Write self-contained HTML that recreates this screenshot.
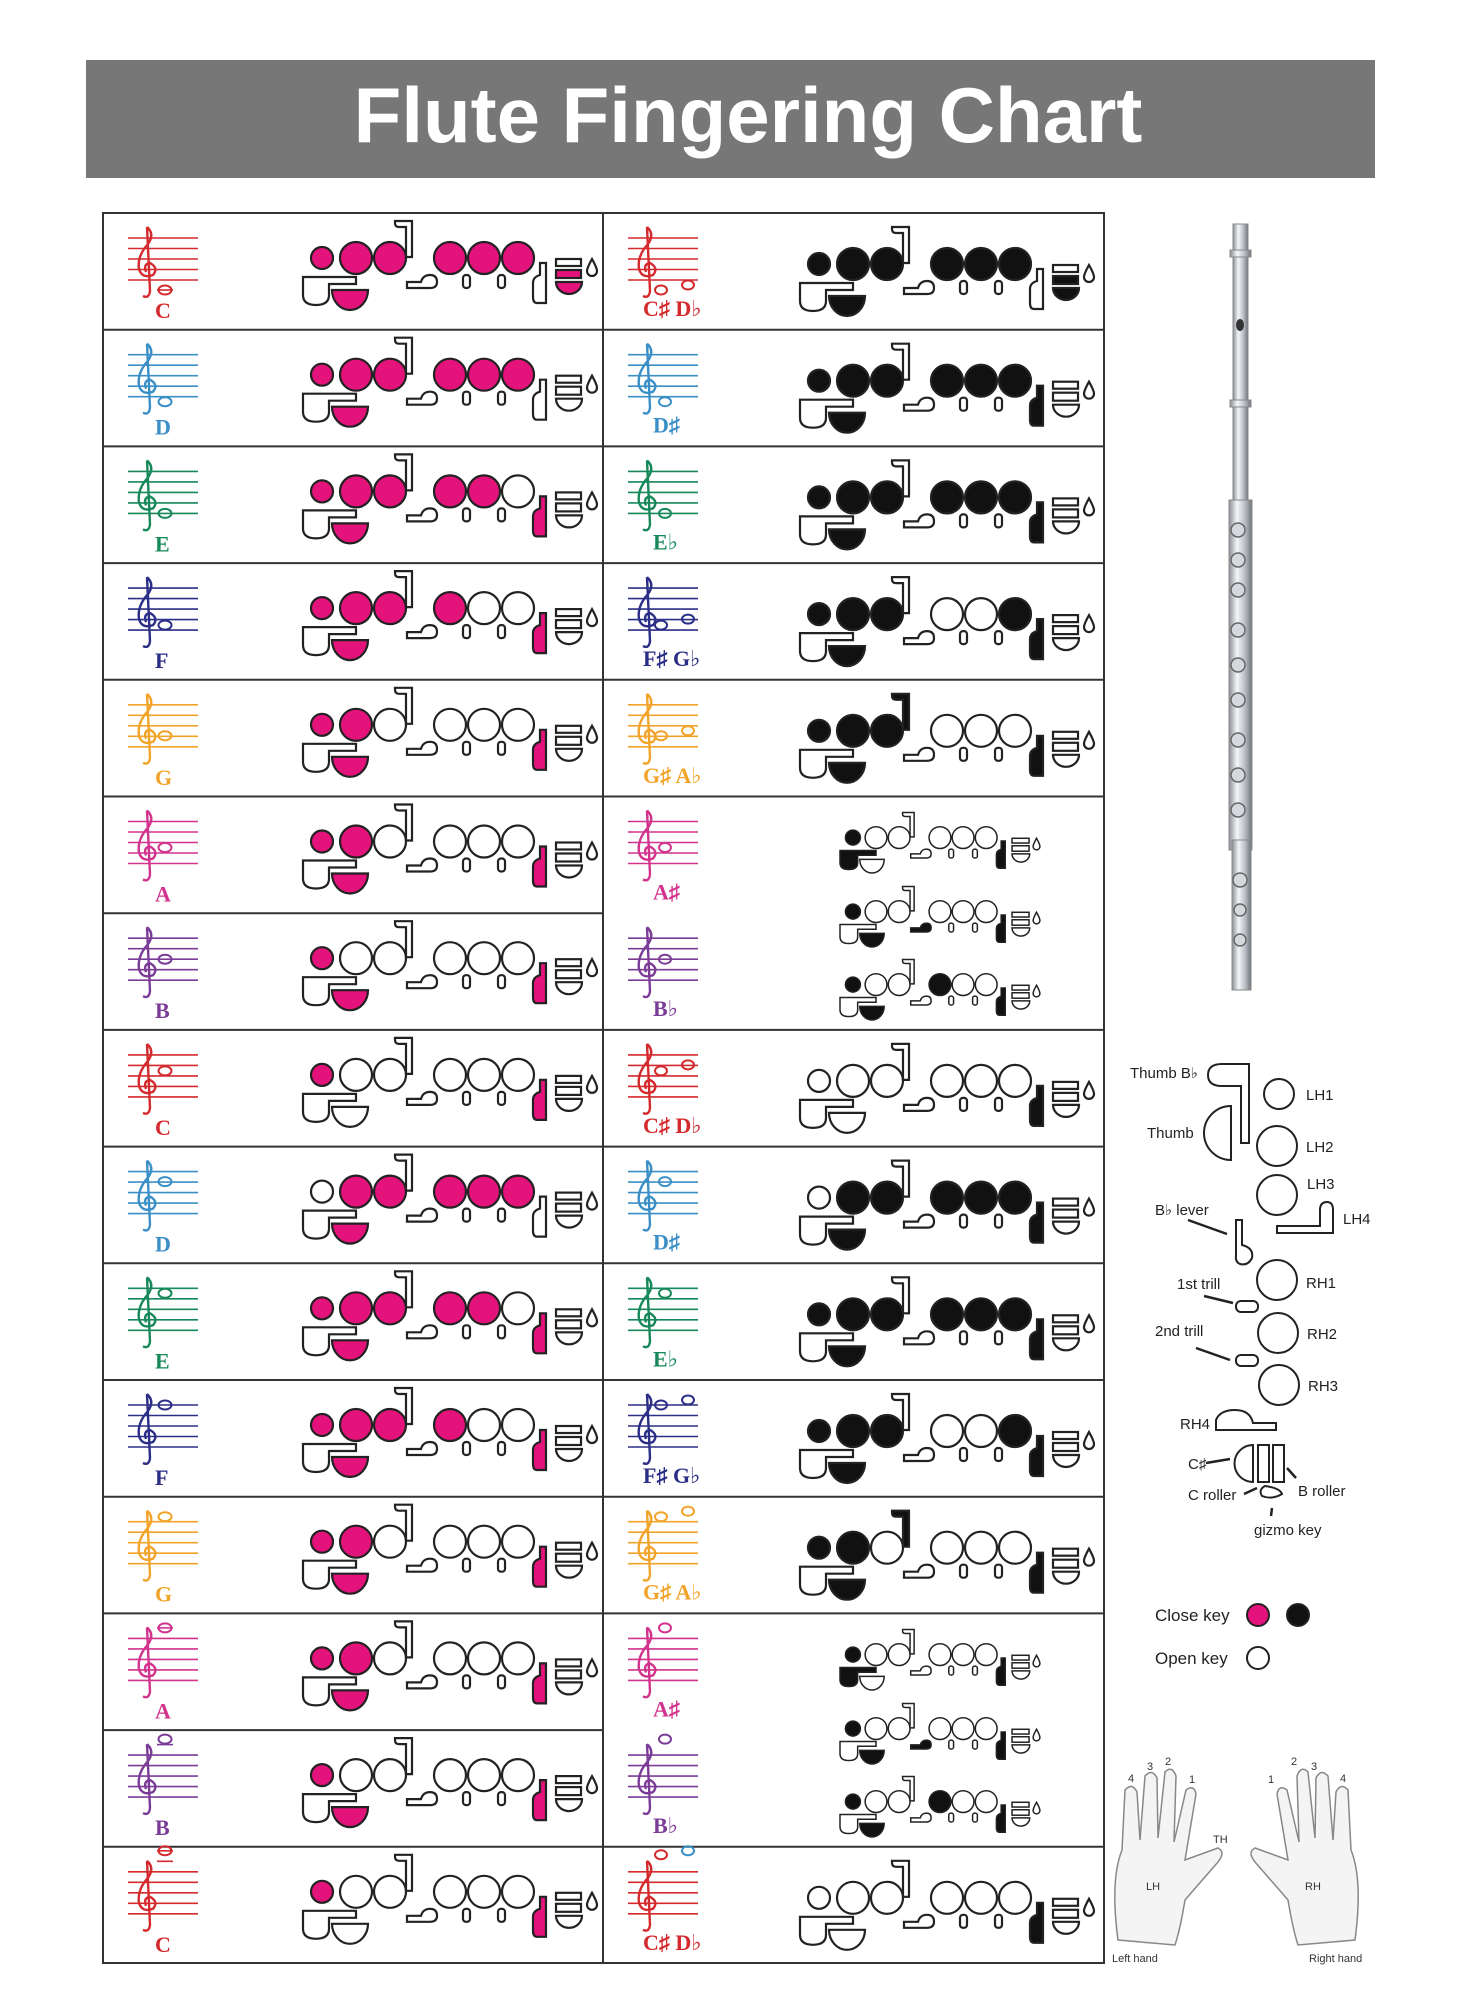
<!DOCTYPE html>
<html><head><meta charset="utf-8"><style>
html,body{margin:0;padding:0;background:#fff;}
svg{display:block;}
.pk{--on:#e4137b}.bk{--on:#111}
.fa{--a:var(--on)}.fb{--b:var(--on)}.fc{--c:var(--on)}.fh{--h:var(--on)}.fL{--L:var(--on)}.ft{--t:var(--on)}.fv{--v:var(--on)}
.fd{--d:var(--on)}.fe{--e:var(--on)}.ff{--f:var(--on)}.fr{--r:var(--on)}.fk1{--k1:var(--on)}.fk2{--k2:var(--on)}.fk3{--k3:var(--on)}
.lbl{font-family:"Liberation Serif","DejaVu Serif",serif;font-weight:bold;font-size:22px;}
.lg{font-family:"Liberation Sans",sans-serif;font-size:15px;fill:#222;}
</style></head><body>
<svg width="1458" height="2000" viewBox="0 0 1458 2000" xmlns="http://www.w3.org/2000/svg">
<defs>
<symbol id="dg" overflow="visible">
<g stroke="#222" stroke-width="2.2">
<circle cx="219" cy="45" r="11" style="fill:var(--a,#fff)"/>
<circle cx="253" cy="45" r="16" style="fill:var(--b,#fff)"/>
<circle cx="287" cy="45" r="16" style="fill:var(--c,#fff)"/>
<path d="M292 8 H309 V44 H303 V14 H296 Q292 14 292 10Z" style="fill:var(--h,#fff)"/>
<path d="M200 64 H253 V71 H226 V82 Q226 92 213 92 Q200 92 200 82 Z" style="fill:var(--L,#fff)"/>
<path d="M229 77 H265 A18 20 0 0 1 229 77 Z" style="fill:var(--t,#fff)"/>
<path d="M304 69 H318 Q320 62 327 62 Q334 62 334 69 Q334 75 327 75 H304 Z" style="fill:var(--v,#fff)"/>
<circle cx="347" cy="45" r="16" style="fill:var(--d,#fff)"/>
<circle cx="381" cy="45" r="16" style="fill:var(--e,#fff)"/>
<circle cx="415" cy="45" r="16" style="fill:var(--f,#fff)"/>
<rect x="360" y="62" width="7" height="13" rx="3" fill="#fff"/>
<rect x="395" y="62" width="7" height="13" rx="3" fill="#fff"/>
<path d="M437 50 H443 V90 H434 Q430 90 430 84 V70 Q430 64 437 62 Z" style="fill:var(--r,#fff)"/>
<rect x="453" y="46" width="25" height="7" style="fill:var(--k1,#fff)"/>
<rect x="453" y="57" width="25" height="8" style="fill:var(--k2,#fff)"/>
<path d="M453 69 H479 A13 12 0 0 1 453 69 Z" style="fill:var(--k3,#fff)"/>
<path d="M489 46 Q494 55 494 58 A5 5 0 0 1 484 58 Q484 55 489 46 Z" fill="#fff"/>
</g>
</symbol>
<symbol id="st" overflow="visible">
<g style="stroke:var(--col)" stroke-width="1.6" fill="none">
<path d="M25 25H95M25 35.5H95M25 46H95M25 56.5H95M25 67H95"/>
<path d="M44 14 Q52 21 45 31 Q34 43 36 56 Q39 66 50 62 Q56 55 47 50 Q40 51 43 59 M44 14 L47 78 Q46 86 40 83" stroke-width="2.4"/>
</g>
</symbol>
<linearGradient id="sil" x1="0" x2="1"><stop offset="0" stop-color="#8a8f96"/><stop offset=".35" stop-color="#f4f6f8"/><stop offset=".7" stop-color="#b8bdc3"/><stop offset="1" stop-color="#6f747a"/></linearGradient>
</defs>

<rect x="86" y="60" width="1289" height="118" fill="#777"/>
<text x="748" y="142" text-anchor="middle" font-family="Liberation Sans,sans-serif" font-weight="bold" font-size="78" fill="#fff">Flute Fingering Chart</text>

<g stroke="#333" stroke-width="2" fill="none">
<rect x="103" y="213" width="1001" height="1750"/>
<line x1="603" y1="213" x2="603" y2="1963"/>
<path d="M103 329.7H1104M103 446.4H1104M103 563.1H1104M103 679.8H1104M103 796.5H1104M103 913.2H603M103 1029.9H1104M103 1146.6H1104M103 1263.3H1104M103 1380H1104M103 1496.7H1104M103 1613.4H1104M103 1730.1H603M103 1846.8H1104"/>
</g>

<!-- LEFT COLUMN -->
<g transform="translate(103,213)" style="--col:#d42a2e"><use href="#st"/><line x1="54" y1="77" x2="70" y2="77" stroke="#d42a2e" stroke-width="1.6"/><ellipse cx="62" cy="77" rx="6.5" ry="4.5" fill="none" stroke="#d42a2e" stroke-width="2"/><text class="lbl" x="52" y="105" fill="#d42a2e">C</text><use href="#dg" class="pk fa fb fc ft fd fe ff fk2 fk3"/></g>
<g transform="translate(103,329.7)" style="--col:#3b8fc7"><use href="#st"/><ellipse cx="62" cy="72" rx="6.5" ry="4.5" fill="none" stroke="#3b8fc7" stroke-width="2"/><text class="lbl" x="52" y="105" fill="#3b8fc7">D</text><use href="#dg" class="pk fa fb fc ft fd fe ff"/></g>
<g transform="translate(103,446.4)" style="--col:#17885a"><use href="#st"/><ellipse cx="62" cy="67" rx="6.5" ry="4.5" fill="none" stroke="#17885a" stroke-width="2"/><text class="lbl" x="52" y="105" fill="#17885a">E</text><use href="#dg" class="pk fa fb fc ft fd fe fr"/></g>
<g transform="translate(103,563.1)" style="--col:#2b2e86"><use href="#st"/><ellipse cx="62" cy="62" rx="6.5" ry="4.5" fill="none" stroke="#2b2e86" stroke-width="2"/><text class="lbl" x="52" y="105" fill="#2b2e86">F</text><use href="#dg" class="pk fa fb fc ft fd fr"/></g>
<g transform="translate(103,679.8)" style="--col:#f2a42a"><use href="#st"/><ellipse cx="62" cy="56" rx="6.5" ry="4.5" fill="none" stroke="#f2a42a" stroke-width="2"/><text class="lbl" x="52" y="105" fill="#f2a42a">G</text><use href="#dg" class="pk fa fb ft fr"/></g>
<g transform="translate(103,796.5)" style="--col:#d2338d"><use href="#st"/><ellipse cx="62" cy="51" rx="6.5" ry="4.5" fill="none" stroke="#d2338d" stroke-width="2"/><text class="lbl" x="52" y="105" fill="#d2338d">A</text><use href="#dg" class="pk fa fb ft fr"/></g>
<g transform="translate(103,913.2)" style="--col:#7b3c98"><use href="#st"/><ellipse cx="62" cy="46" rx="6.5" ry="4.5" fill="none" stroke="#7b3c98" stroke-width="2"/><text class="lbl" x="52" y="105" fill="#7b3c98">B</text><use href="#dg" class="pk fa ft fr"/></g>
<g transform="translate(103,1029.9)" style="--col:#d42a2e"><use href="#st"/><ellipse cx="62" cy="41" rx="6.5" ry="4.5" fill="none" stroke="#d42a2e" stroke-width="2"/><text class="lbl" x="52" y="105" fill="#d42a2e">C</text><use href="#dg" class="pk fa fr"/></g>
<g transform="translate(103,1146.6)" style="--col:#3b8fc7"><use href="#st"/><ellipse cx="62" cy="35" rx="6.5" ry="4.5" fill="none" stroke="#3b8fc7" stroke-width="2"/><text class="lbl" x="52" y="105" fill="#3b8fc7">D</text><use href="#dg" class="pk fb fc ft fd fe ff"/></g>
<g transform="translate(103,1263.3)" style="--col:#17885a"><use href="#st"/><ellipse cx="62" cy="30" rx="6.5" ry="4.5" fill="none" stroke="#17885a" stroke-width="2"/><text class="lbl" x="52" y="105" fill="#17885a">E</text><use href="#dg" class="pk fa fb fc ft fd fe fr"/></g>
<g transform="translate(103,1380)" style="--col:#2b2e86"><use href="#st"/><ellipse cx="62" cy="25" rx="6.5" ry="4.5" fill="none" stroke="#2b2e86" stroke-width="2"/><text class="lbl" x="52" y="105" fill="#2b2e86">F</text><use href="#dg" class="pk fa fb fc ft fd fr"/></g>
<g transform="translate(103,1496.7)" style="--col:#f2a42a"><use href="#st"/><ellipse cx="62" cy="20" rx="6.5" ry="4.5" fill="none" stroke="#f2a42a" stroke-width="2"/><text class="lbl" x="52" y="105" fill="#f2a42a">G</text><use href="#dg" class="pk fa fb ft fr"/></g>
<g transform="translate(103,1613.4)" style="--col:#d2338d"><use href="#st"/><line x1="54" y1="14.5" x2="70" y2="14.5" stroke="#d2338d" stroke-width="1.6"/><ellipse cx="62" cy="14.5" rx="6.5" ry="4.5" fill="none" stroke="#d2338d" stroke-width="2"/><text class="lbl" x="52" y="105" fill="#d2338d">A</text><use href="#dg" class="pk fa fb ft fr"/></g>
<g transform="translate(103,1730.1)" style="--col:#7b3c98"><use href="#st"/><line x1="54" y1="14.5" x2="70" y2="14.5" stroke="#7b3c98" stroke-width="1.6"/><ellipse cx="62" cy="9" rx="6.5" ry="4.5" fill="none" stroke="#7b3c98" stroke-width="2"/><text class="lbl" x="52" y="105" fill="#7b3c98">B</text><use href="#dg" class="pk fa ft fr"/></g>
<g transform="translate(103,1846.8)" style="--col:#d42a2e"><use href="#st"/><path d="M54 14.5H70M54 4H70" stroke="#d42a2e" stroke-width="1.6"/><ellipse cx="62" cy="4" rx="6.5" ry="4.5" fill="none" stroke="#d42a2e" stroke-width="2"/><text class="lbl" x="52" y="105" fill="#d42a2e">C</text><use href="#dg" class="pk fa fr"/></g>

<!-- RIGHT COLUMN -->
<g transform="translate(603,213)" style="--col:#d42a2e"><use href="#st"/><ellipse cx="58" cy="77" rx="6" ry="4.5" fill="none" stroke="#d42a2e" stroke-width="2"/><ellipse cx="85" cy="72" rx="6" ry="4.5" fill="none" stroke="#d42a2e" stroke-width="2"/><text class="lbl" x="40" y="103" fill="#d42a2e">C♯ D♭</text><use href="#dg" class="bk fa fb fc ft fd fe ff fk2 fk3" transform="translate(-3,6)"/></g>
<g transform="translate(603,329.7)" style="--col:#3b8fc7"><use href="#st"/><ellipse cx="62" cy="72" rx="6" ry="4.5" fill="none" stroke="#3b8fc7" stroke-width="2"/><text class="lbl" x="50" y="103" fill="#3b8fc7">D♯</text><use href="#dg" class="bk fa fb fc ft fd fe ff fr" transform="translate(-3,6)"/></g>
<g transform="translate(603,446.4)" style="--col:#17885a"><use href="#st"/><ellipse cx="62" cy="67" rx="6" ry="4.5" fill="none" stroke="#17885a" stroke-width="2"/><text class="lbl" x="50" y="103" fill="#17885a">E♭</text><use href="#dg" class="bk fa fb fc ft fd fe ff fr" transform="translate(-3,6)"/></g>
<g transform="translate(603,563.1)" style="--col:#2b2e86"><use href="#st"/><ellipse cx="58" cy="62" rx="6" ry="4.5" fill="none" stroke="#2b2e86" stroke-width="2"/><ellipse cx="85" cy="56" rx="6" ry="4.5" fill="none" stroke="#2b2e86" stroke-width="2"/><text class="lbl" x="40" y="103" fill="#2b2e86">F♯ G♭</text><use href="#dg" class="bk fa fb fc ft ff fr" transform="translate(-3,6)"/></g>
<g transform="translate(603,679.8)" style="--col:#f2a42a"><use href="#st"/><ellipse cx="58" cy="56" rx="6" ry="4.5" fill="none" stroke="#f2a42a" stroke-width="2"/><ellipse cx="85" cy="51" rx="6" ry="4.5" fill="none" stroke="#f2a42a" stroke-width="2"/><text class="lbl" x="40" y="103" fill="#f2a42a">G♯ A♭</text><use href="#dg" class="bk fa fb fc ft fh fr" transform="translate(-3,6)"/></g>
<g transform="translate(603,796.5)" style="--col:#d2338d"><use href="#st"/><ellipse cx="62" cy="51" rx="6" ry="4.5" fill="none" stroke="#d2338d" stroke-width="2"/><text class="lbl" x="50" y="103" fill="#d2338d">A♯</text></g>
<g transform="translate(603,913.2)" style="--col:#7b3c98"><use href="#st"/><ellipse cx="62" cy="46" rx="6" ry="4.5" fill="none" stroke="#7b3c98" stroke-width="2"/><text class="lbl" x="50" y="103" fill="#7b3c98">B♭</text></g>
<use href="#dg" class="bk fa fL fr" transform="translate(704,807) scale(0.68)"/>
<use href="#dg" class="bk fa ft fv fr" transform="translate(704,881) scale(0.68)"/>
<use href="#dg" class="bk fa ft fd fr" transform="translate(704,954) scale(0.68)"/>
<g transform="translate(603,1029.9)" style="--col:#d42a2e"><use href="#st"/><ellipse cx="58" cy="41" rx="6" ry="4.5" fill="none" stroke="#d42a2e" stroke-width="2"/><ellipse cx="85" cy="35" rx="6" ry="4.5" fill="none" stroke="#d42a2e" stroke-width="2"/><text class="lbl" x="40" y="103" fill="#d42a2e">C♯ D♭</text><use href="#dg" class="bk fr" transform="translate(-3,6)"/></g>
<g transform="translate(603,1146.6)" style="--col:#3b8fc7"><use href="#st"/><ellipse cx="62" cy="35" rx="6" ry="4.5" fill="none" stroke="#3b8fc7" stroke-width="2"/><text class="lbl" x="50" y="103" fill="#3b8fc7">D♯</text><use href="#dg" class="bk fb fc ft fd fe ff fr" transform="translate(-3,6)"/></g>
<g transform="translate(603,1263.3)" style="--col:#17885a"><use href="#st"/><ellipse cx="62" cy="30" rx="6" ry="4.5" fill="none" stroke="#17885a" stroke-width="2"/><text class="lbl" x="50" y="103" fill="#17885a">E♭</text><use href="#dg" class="bk fa fb fc ft fd fe ff fr" transform="translate(-3,6)"/></g>
<g transform="translate(603,1380)" style="--col:#2b2e86"><use href="#st"/><ellipse cx="58" cy="25" rx="6" ry="4.5" fill="none" stroke="#2b2e86" stroke-width="2"/><ellipse cx="85" cy="20" rx="6" ry="4.5" fill="none" stroke="#2b2e86" stroke-width="2"/><text class="lbl" x="40" y="103" fill="#2b2e86">F♯ G♭</text><use href="#dg" class="bk fa fb fc ft ff fr" transform="translate(-3,6)"/></g>
<g transform="translate(603,1496.7)" style="--col:#f2a42a"><use href="#st"/><ellipse cx="58" cy="20" rx="6" ry="4.5" fill="none" stroke="#f2a42a" stroke-width="2"/><ellipse cx="85" cy="14.5" rx="6" ry="4.5" fill="none" stroke="#f2a42a" stroke-width="2"/><text class="lbl" x="40" y="103" fill="#f2a42a">G♯ A♭</text><use href="#dg" class="bk fa fb ft fh fr" transform="translate(-3,6)"/></g>
<g transform="translate(603,1613.4)" style="--col:#d2338d"><use href="#st"/><ellipse cx="62" cy="14.5" rx="6" ry="4.5" fill="none" stroke="#d2338d" stroke-width="2"/><text class="lbl" x="50" y="103" fill="#d2338d">A♯</text></g>
<g transform="translate(603,1730.1)" style="--col:#7b3c98"><use href="#st"/><ellipse cx="62" cy="9" rx="6" ry="4.5" fill="none" stroke="#7b3c98" stroke-width="2"/><text class="lbl" x="50" y="103" fill="#7b3c98">B♭</text></g>
<use href="#dg" class="bk fa fL fr" transform="translate(704,1624) scale(0.68)"/>
<use href="#dg" class="bk fa ft fv fr" transform="translate(704,1698) scale(0.68)"/>
<use href="#dg" class="bk fa ft fd fr" transform="translate(704,1771) scale(0.68)"/>
<g transform="translate(603,1846.8)" style="--col:#d42a2e"><use href="#st"/><ellipse cx="58" cy="8" rx="6" ry="4.5" fill="none" stroke="#d42a2e" stroke-width="2"/><ellipse cx="85" cy="4" rx="6" ry="4.5" fill="none" stroke="#3b8fc7" stroke-width="2"/><text class="lbl" x="40" y="103" fill="#d42a2e">C♯ D♭</text><use href="#dg" class="bk fr" transform="translate(-3,6)"/></g>

<!-- flute -->
<g>
<rect x="1233" y="224" width="15" height="390" fill="url(#sil)" stroke="#888"/>
<rect x="1230" y="250" width="21" height="7" fill="url(#sil)" stroke="#888"/>
<ellipse cx="1240" cy="325" rx="4" ry="6" fill="#333"/>
<rect x="1230" y="400" width="21" height="7" fill="url(#sil)" stroke="#888"/>
<rect x="1229" y="500" width="23" height="350" fill="url(#sil)" stroke="#888"/>
<rect x="1232" y="840" width="19" height="150" fill="url(#sil)" stroke="#888"/>
<g fill="#d5d8dc" stroke="#666" stroke-width="1.5">
<circle cx="1238" cy="530" r="7"/><circle cx="1238" cy="560" r="7"/><circle cx="1238" cy="590" r="7"/>
<circle cx="1238" cy="630" r="7"/><circle cx="1238" cy="665" r="7"/><circle cx="1238" cy="700" r="7"/>
<circle cx="1238" cy="740" r="7"/><circle cx="1238" cy="775" r="7"/><circle cx="1238" cy="810" r="7"/>
<circle cx="1240" cy="880" r="7"/><circle cx="1240" cy="910" r="6"/><circle cx="1240" cy="940" r="6"/>
</g>
</g>

<!-- key diagram -->
<g stroke="#222" stroke-width="2" fill="#fff">
<path d="M1222 1064 H1249 V1143 H1241 V1086 H1222 Q1208 1086 1208 1075 Q1208 1064 1222 1064 Z"/>
<circle cx="1279" cy="1094" r="15"/>
<path d="M1231 1106 V1160 A27 27 0 0 1 1231 1106 Z"/>
<circle cx="1277" cy="1146" r="20"/>
<circle cx="1277" cy="1195" r="20"/>
<path d="M1277 1226 H1320 V1210 Q1320 1202 1327 1202 Q1333 1202 1333 1210 V1233 H1277 Z"/>
<path d="M1236 1220 H1242 V1245 Q1254 1248 1252 1258 Q1248 1266 1240 1264 Q1235 1262 1236 1255 Z"/>
<circle cx="1277" cy="1280" r="20"/>
<rect x="1236" y="1301" width="22" height="11" rx="5"/>
<circle cx="1278" cy="1333" r="20"/>
<rect x="1236" y="1355" width="22" height="11" rx="5"/>
<circle cx="1279" cy="1385" r="20"/>
<path d="M1216 1430 V1420 Q1220 1410 1235 1410 Q1250 1410 1253 1423 H1276 V1430 Z"/>
<path d="M1253 1445 V1482 A18 18 0 0 1 1253 1445 Z"/>
<rect x="1258" y="1445" width="11" height="37"/>
<rect x="1273" y="1445" width="11" height="37"/>
<path d="M1265 1486 Q1280 1488 1282 1494 Q1272 1500 1262 1496 Q1258 1490 1265 1486 Z"/>
</g>
<g stroke="#222" stroke-width="2.5">
<line x1="1188" y1="1220" x2="1227" y2="1234"/><line x1="1204" y1="1296" x2="1233" y2="1303"/>
<line x1="1196" y1="1348" x2="1230" y2="1360"/><line x1="1206" y1="1463" x2="1230" y2="1459"/>
<line x1="1287" y1="1468" x2="1296" y2="1478"/><line x1="1244" y1="1494" x2="1257" y2="1488"/>
<line x1="1272" y1="1508" x2="1271" y2="1516"/>
</g>
<g class="lg">
<text x="1130" y="1078">Thumb B♭</text><text x="1147" y="1138">Thumb</text>
<text x="1306" y="1100">LH1</text><text x="1306" y="1152">LH2</text><text x="1307" y="1189">LH3</text><text x="1343" y="1224">LH4</text>
<text x="1155" y="1215">B♭ lever</text><text x="1177" y="1289">1st trill</text><text x="1155" y="1336">2nd trill</text>
<text x="1306" y="1288">RH1</text><text x="1307" y="1339">RH2</text><text x="1308" y="1391">RH3</text><text x="1180" y="1429">RH4</text>
<text x="1188" y="1469">C♯</text><text x="1188" y="1500">C roller</text><text x="1298" y="1496">B roller</text><text x="1254" y="1535">gizmo key</text>
<text x="1155" y="1621" font-size="17">Close key</text><text x="1155" y="1664" font-size="17">Open key</text>
</g>
<circle cx="1258" cy="1615" r="11" fill="#e4137b" stroke="#222" stroke-width="2"/>
<circle cx="1298" cy="1615" r="11" fill="#111" stroke="#222" stroke-width="2"/>
<circle cx="1258" cy="1658" r="11" fill="#fff" stroke="#222" stroke-width="2"/>

<!-- hands -->
<g fill="#f4f4f4" stroke="#888" stroke-width="1.5">
<path d="M1118 1940 Q1110 1880 1122 1850 L1125 1790 Q1132 1782 1137 1792 L1140 1840 L1145 1776 Q1152 1768 1157 1778 L1158 1838 L1165 1772 Q1172 1765 1176 1776 L1174 1842 L1186 1790 Q1194 1784 1196 1794 L1185 1860 L1218 1848 Q1226 1852 1218 1862 L1185 1900 Q1180 1930 1175 1945 Z"/>
<path d="M1355 1940 Q1363 1880 1351 1850 L1348 1790 Q1341 1782 1336 1792 L1333 1840 L1328 1776 Q1321 1768 1316 1778 L1315 1838 L1308 1772 Q1301 1765 1297 1776 L1299 1842 L1287 1790 Q1279 1784 1277 1794 L1288 1860 L1255 1848 Q1247 1852 1255 1862 L1288 1900 Q1293 1930 1298 1945 Z"/>
</g>
<g font-family="Liberation Sans,sans-serif" font-size="11" fill="#333">
<text x="1128" y="1782">4</text><text x="1147" y="1770">3</text><text x="1165" y="1765">2</text><text x="1189" y="1783">1</text>
<text x="1268" y="1783">1</text><text x="1291" y="1765">2</text><text x="1311" y="1770">3</text><text x="1340" y="1782">4</text>
<text x="1213" y="1843">TH</text><text x="1146" y="1890">LH</text><text x="1305" y="1890">RH</text>
<text x="1112" y="1962">Left hand</text><text x="1309" y="1962">Right hand</text>
</g>
</svg>
</body></html>
